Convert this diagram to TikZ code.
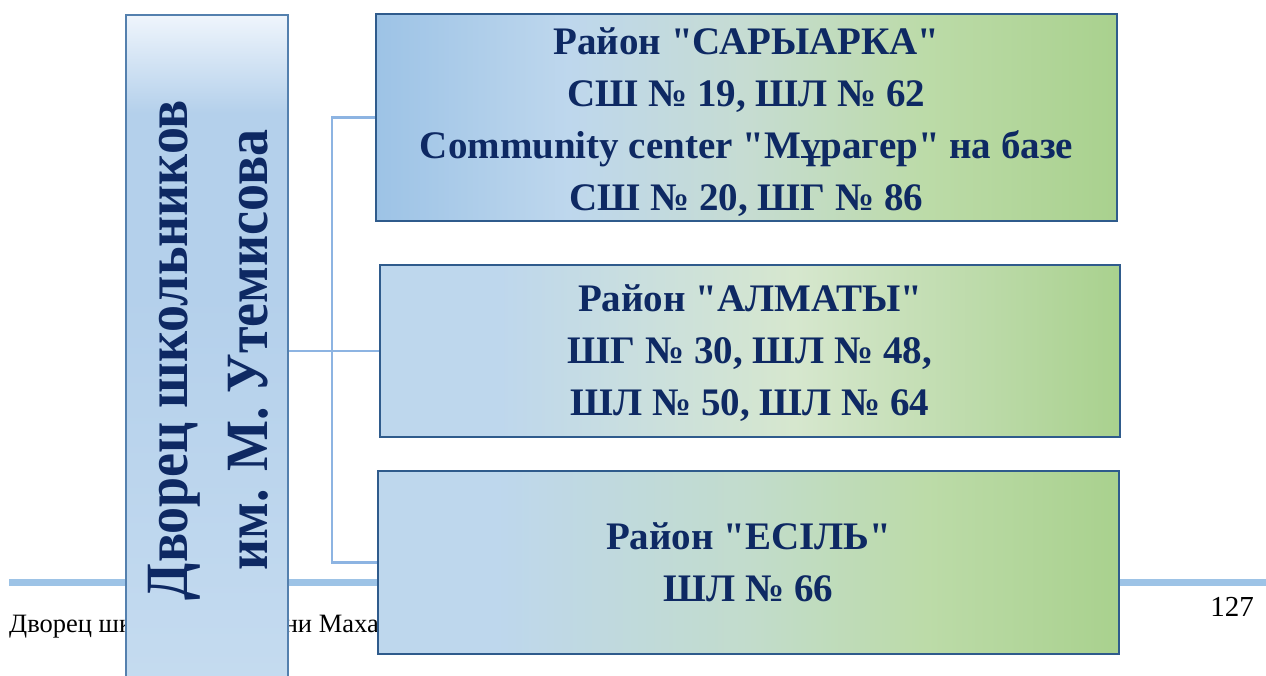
\documentclass[tikz,border=0pt]{standalone}
\usepackage{fontspec}
\setmainfont{Liberation Serif}[Ligatures=TeXOff]
\newfontfamily\condfont{Liberation Serif}[FakeStretch=0.9, Ligatures=TeXOff]
\usetikzlibrary{calc,backgrounds}
\definecolor{navy}{HTML}{0E2963}
\definecolor{boxedge}{HTML}{2F5B8C}
\definecolor{leftedge}{HTML}{5480AE}
\definecolor{connc}{HTML}{8DB4E2}
\definecolor{footc}{HTML}{9DC3E6}
\definecolor{bA}{HTML}{9DC3E6}
\definecolor{bB}{HTML}{BED7ED}
\definecolor{bC}{HTML}{C6DCD2}
\definecolor{bD}{HTML}{BCDBA8}
\definecolor{gr}{HTML}{A9D18E}
\definecolor{pB}{HTML}{D6E7CE}
\definecolor{qC}{HTML}{C2DCCC}
\definecolor{lb1}{HTML}{EFF5FC}
\definecolor{lb2}{HTML}{B4D0EB}
\definecolor{lb3}{HTML}{C6DCF0}
\pgfdeclarehorizontalshading{gradA}{100bp}{color(0bp)=(bA); color(25bp)=(bA); color(38bp)=(bB); color(50bp)=(bC); color(62bp)=(bD); color(75bp)=(gr); color(100bp)=(gr)}
\pgfdeclarehorizontalshading{gradB}{100bp}{color(0bp)=(bB); color(25bp)=(bB); color(33bp)=(bB); color(53bp)=(pB); color(75bp)=(gr); color(100bp)=(gr)}
\pgfdeclarehorizontalshading{gradC}{100bp}{color(0bp)=(bB); color(25bp)=(bB); color(33bp)=(bB); color(50bp)=(qC); color(62bp)=(bD); color(75bp)=(gr); color(100bp)=(gr)}
\pgfdeclareverticalshading{gradL}{100bp}{color(0bp)=(lb3); color(25bp)=(lb3); color(55bp)=(lb2); color(68bp)=(lb2); color(75bp)=(lb1); color(100bp)=(lb1)}
\tikzset{
  rbox/.style={draw=boxedge, line width=1.8pt, inner sep=0pt},
  rtext/.style={inner sep=0pt, align=center, text=navy,
    font=\fontsize{39}{52}\selectfont\bfseries},
  leftbox/.style={draw=leftedge, line width=1.8pt, shading=gradL, inner sep=0pt},
  lefttext/.style={text=navy, align=center, inner sep=0pt,
    font=\condfont\fontsize{60}{80}\selectfont\bfseries},
  conn/.style={draw=connc, line width=2.2pt},
  footline/.style={draw=footc, line width=7pt},
  foottext/.style={inner sep=0pt, font=\fontsize{26.5}{30}\selectfont},
  pagetext/.style={inner sep=0pt, font=\fontsize{29}{32}\selectfont}
}
\begin{document}
\begin{tikzpicture}[x=1pt, y=-1pt]
\useasboundingbox (0,0) rectangle (1266,675);
\clip (0,0) rectangle (1266,675);
% boxes
\node[leftbox, minimum width=162pt, minimum height=700pt, anchor=north west] (L) at (125,14) {};
\node[rbox, shading=gradA, minimum width=741pt, minimum height=207pt] (b1) at (746.5,117.5) {};
\node[rbox, shading=gradB, minimum width=740pt, minimum height=172pt] (b2) at (750,351) {};
\node[rbox, shading=gradC, minimum width=741pt, minimum height=183pt] (b3) at (748.5,562.5) {};
\node[rtext] (t1) at ($(b1.center)+(0,4.5)$)
  {Район "САРЫАРКА"\\СШ № 19, ШЛ № 62\\Community center "Мұрагер" на базе\\СШ № 20, ШГ № 86};
\node[rtext] (t2) at ($(b2.center)+(0,2)$)
  {Район "АЛМАТЫ"\\ШГ № 30, ШЛ № 48,\\ШЛ № 50, ШЛ № 64};
\node[rtext] (t3) at ($(b3.center)+(0,0)$)
  {Район "ЕСІЛЬ"\\ШЛ № 66};
\node[lefttext, rotate=90] (LT) at (208,350) {Дворец школьников\\им. М. Утемисова};
\begin{scope}[on background layer]
  % footer
  \coordinate (FL) at (9,582);
  \coordinate (FR) at (1266,582);
  \draw[footline] (FL) -- (FR);
  \node[foottext, anchor=base west] (ft) at (9,632) {Дворец школьников имени Махамбета Утемисова};
  \node[pagetext, anchor=base east] (pg) at (1254,616) {127};
  % connectors
  \coordinate (J) at (332,351);
  \draw[conn] (L.east |- J) -- (b2.west |- J);
  \draw[conn] (b1.west) -| (J) |- (b3.west);
\end{scope}
\end{tikzpicture}
\end{document}
